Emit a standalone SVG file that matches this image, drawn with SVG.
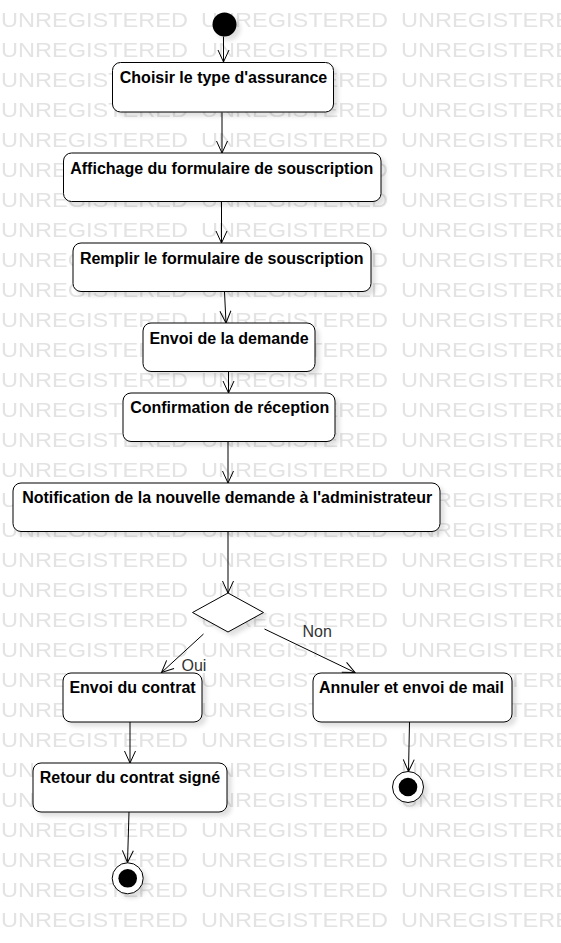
<svg xmlns="http://www.w3.org/2000/svg" width="561" height="943" viewBox="0 0 561 943">
<style>
.wm{font-family:"Liberation Sans",Arial,sans-serif;font-size:21px;fill:#e3e3e3}
.node rect,.node polygon{fill:#fff;stroke:#000;stroke-width:1}
.lbl{font-family:"Liberation Sans",Arial,sans-serif;font-size:16px;font-weight:bold;fill:#000;text-anchor:middle}
.guard{font-family:"Liberation Sans",Arial,sans-serif;font-size:16px;fill:#333}
.edge{fill:none;stroke:#000;stroke-width:1;marker-end:url(#arr)}
</style>
<defs>
<pattern id="wmp" patternUnits="userSpaceOnUse" x="0" y="0" width="200" height="30">
<text class="wm" x="1" y="27.3" textLength="187" lengthAdjust="spacingAndGlyphs">UNREGISTERED</text>
</pattern>
<filter id="sh" x="-20%" y="-20%" width="150%" height="160%">
<feDropShadow dx="4" dy="4" stdDeviation="2" flood-color="#000" flood-opacity="0.12"/>
</filter>
<marker id="arr" markerUnits="userSpaceOnUse" markerWidth="14" markerHeight="14" viewBox="0 0 14 14" refX="13" refY="7" orient="auto">
<path d="M1,1.5 L13,7 L1,12.5" fill="none" stroke="#000" stroke-width="1"/>
</marker>
</defs>
<rect x="0" y="0" width="561" height="943" fill="#fff"/>
<rect x="0" y="0" width="561" height="943" fill="url(#wmp)"/>

<g id="connectors">
<line class="edge" x1="223.5" y1="36.5" x2="223.5" y2="62"/>
<line class="edge" x1="222" y1="112.5" x2="222" y2="153"/>
<line class="edge" x1="221.5" y1="202" x2="221.5" y2="243"/>
<line class="edge" x1="224.5" y1="292" x2="226" y2="323"/>
<line class="edge" x1="228.5" y1="372" x2="228.5" y2="393"/>
<line class="edge" x1="228" y1="442" x2="228" y2="483"/>
<line class="edge" x1="228" y1="532" x2="228" y2="593"/>
<line class="edge" x1="203.5" y1="634" x2="161.5" y2="672.5"/>
<line class="edge" x1="264.5" y1="629" x2="355" y2="672.5"/>
<line class="edge" x1="130" y1="722" x2="130" y2="763"/>
<line class="edge" x1="409.5" y1="722" x2="408.5" y2="771.5"/>
<line class="edge" x1="129" y1="812" x2="127.5" y2="862.5"/>
<text class="guard" x="181.5" y="670.5">Oui</text>
<text class="guard" x="302.5" y="636.5">Non</text>
</g>

<g id="start" class="node"><circle cx="224.5" cy="24.5" r="12" fill="#000" filter="url(#sh)"/></g>

<g id="n1" class="node"><rect x="112.5" y="62.5" width="221" height="49.5" rx="8" filter="url(#sh)"/><text class="lbl" x="223.5" y="82.5">Choisir le type d'assurance</text></g>
<g id="n2" class="node"><rect x="63.5" y="153" width="317.5" height="48.5" rx="8" filter="url(#sh)"/><text class="lbl" x="221.8" y="173.5">Affichage du formulaire de souscription</text></g>
<g id="n3" class="node"><rect x="73" y="243" width="298" height="48.5" rx="8" filter="url(#sh)"/><text class="lbl" x="221.7" y="263.5">Remplir le formulaire de souscription</text></g>
<g id="n4" class="node"><rect x="143" y="323" width="172" height="48.5" rx="8" filter="url(#sh)"/><text class="lbl" x="229" y="343.5">Envoi de la demande</text></g>
<g id="n5" class="node"><rect x="123" y="393" width="212" height="48.5" rx="8" filter="url(#sh)"/><text class="lbl" x="229.7" y="413.3">Confirmation de réception</text></g>
<g id="n6" class="node"><rect x="13" y="483" width="427" height="48.5" rx="8" filter="url(#sh)"/><text class="lbl" x="227.2" y="503.4">Notification de la nouvelle demande à l'administrateur</text></g>
<g id="decision" class="node"><polygon points="228,593 263.5,612.5 228,632 192.5,612.5" filter="url(#sh)"/></g>
<g id="n7" class="node"><rect x="63" y="673" width="139" height="49" rx="8" filter="url(#sh)"/><text class="lbl" x="132.5" y="692.7">Envoi du contrat</text></g>
<g id="n8" class="node"><rect x="313" y="673" width="199" height="49" rx="8" filter="url(#sh)"/><text class="lbl" x="411.5" y="692.7">Annuler et envoi de mail</text></g>
<g id="n9" class="node"><rect x="33" y="763" width="194" height="49" rx="8" filter="url(#sh)"/><text class="lbl" x="130" y="782.7">Retour du contrat signé</text></g>
<g id="end1" class="node"><circle cx="127.7" cy="878.3" r="15.5" fill="#fff" stroke="#000" stroke-width="1" filter="url(#sh)"/><circle cx="127.7" cy="878.3" r="9.3" fill="#000"/></g>
<g id="end2" class="node"><circle cx="408" cy="787" r="15.5" fill="#fff" stroke="#000" stroke-width="1" filter="url(#sh)"/><circle cx="408" cy="787" r="9.3" fill="#000"/></g>
</svg>
